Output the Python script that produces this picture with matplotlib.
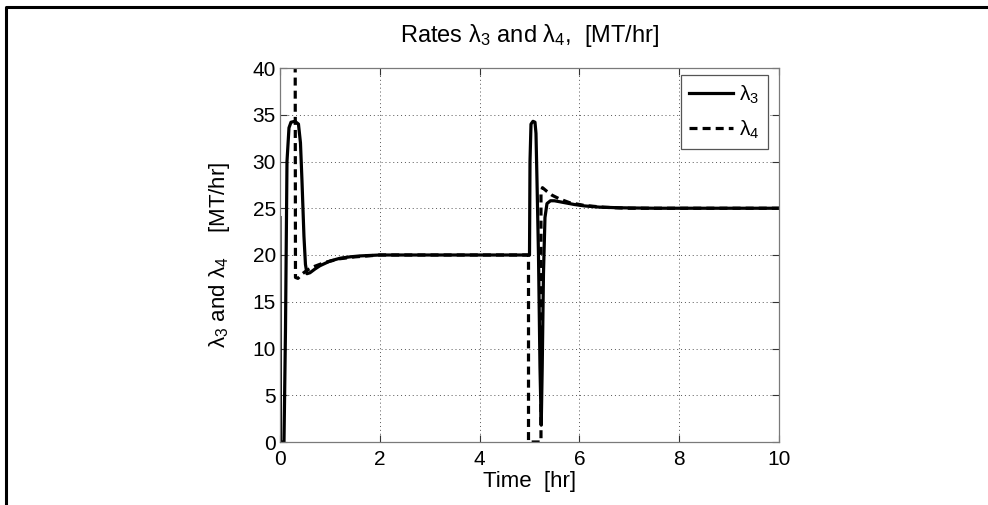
import matplotlib
matplotlib.use("Agg")
import matplotlib.pyplot as plt
from matplotlib.lines import Line2D

plt.rcParams['font.family'] = ['Liberation Sans', 'DejaVu Sans']
plt.rcParams['mathtext.fontset'] = 'custom'
plt.rcParams['mathtext.rm'] = 'Liberation Sans'
plt.rcParams['mathtext.it'] = 'Liberation Sans:italic'

# lambda_3 (solid)
t3 = [0.0, 0.01, 0.08, 0.11, 0.14, 0.18, 0.22, 0.3, 0.37, 0.41, 0.44, 0.48, 0.51, 0.54, 0.6, 0.7,
      0.8, 0.9, 1.0, 1.2, 1.4, 1.6, 1.8, 2.0, 3.0, 4.0, 5.0, 5.01, 5.03, 5.07, 5.11, 5.13, 5.15,
      5.18, 5.21, 5.235, 5.255, 5.28, 5.31, 5.35, 5.42, 5.5, 5.7, 5.9, 6.1, 6.4, 6.8, 7.5, 10.0]
lam3 = [24.0, 0.0, 0.0, 12.0, 30.0, 33.6, 34.2, 34.3, 34.0, 32.0, 28.0, 22.0, 19.0, 18.0, 18.1, 18.5,
        18.85, 19.1, 19.35, 19.65, 19.8, 19.9, 19.95, 20.0, 20.0, 20.0, 20.0, 30.0, 34.0, 34.3, 34.2, 33.0, 28.0,
        20.0, 8.0, 1.8, 8.0, 18.0, 24.0, 25.5, 25.8, 25.8, 25.6, 25.4, 25.25, 25.12, 25.05, 25.0, 25.0]

# lambda_4 (dashed)
t4 = [0.30, 0.31, 0.36, 0.45, 0.55, 0.7, 0.9, 1.2, 1.5, 2.0, 3.0, 4.98, 4.98, 5.23, 5.23, 5.26,
      5.35, 5.45, 5.6, 5.8, 6.1, 6.5, 7.0, 8.0, 10.0]
lam4 = [60.0, 17.6, 17.5, 18.0, 18.4, 18.8, 19.2, 19.6, 19.8, 20.0, 20.0, 20.0, 0.0, 0.0, 26.5, 27.2,
        26.8, 26.4, 26.0, 25.6, 25.3, 25.1, 25.0, 25.0, 25.0]

xticks = [0, 2, 4, 6, 8, 10]
yticks = [0, 5, 10, 15, 20, 25, 30, 35, 40]

fig = plt.figure(figsize=(9.88, 5.05), dpi=100)
ax = fig.add_axes([280/988, 1 - 442/505, 499/988, 374/505])

ax.plot(t3, lam3, color='black', lw=2.3, label=r'λ$_3$')
ax.plot(t4, lam4, color='black', lw=2.3, dashes=(2.5, 1.6), label=r'λ$_4$')

ax.set_xlim(0, 10)
ax.set_ylim(0, 40)
ax.set_xticks(xticks)
ax.set_yticks(yticks)
ax.grid(True, linestyle=(0, (1, 3)), color='#555555', lw=0.7)
ax.tick_params(direction='in', length=5, width=0.8, color='#333333', labelsize=15,
               top=True, right=True)
ax.tick_params(axis='x', pad=6)
ax.tick_params(axis='y', pad=3)
for s in ax.spines.values():
    s.set_color('#7a7a7a')
    s.set_linewidth(0.9)

ax.set_title(r'Rates λ$_3$ and λ$_4$,  [MT/hr]', fontsize=17, pad=19)
ax.set_xlabel('Time  [hr]', fontsize=16, labelpad=1)
ax.set_ylabel(r'λ$_3$ and λ$_4$    [MT/hr]', fontsize=16, labelpad=15)

leg = ax.legend(loc='upper right', bbox_to_anchor=(0.978, 0.981), fontsize=15,
                handlelength=2.1, fancybox=False, framealpha=1, borderpad=0.4,
                labelspacing=0.6, handletextpad=0.3, borderaxespad=0)
leg.get_frame().set_edgecolor('#555555')
leg.get_frame().set_linewidth(0.9)

# outer frame of the picture
x0, y0 = 6/988, 1 - 7/505
fig.add_artist(Line2D([x0, x0, 1.0], [0.0, y0, y0], transform=fig.transFigure,
                      color='black', lw=2.2))

fig.savefig('out.png', dpi=100)
